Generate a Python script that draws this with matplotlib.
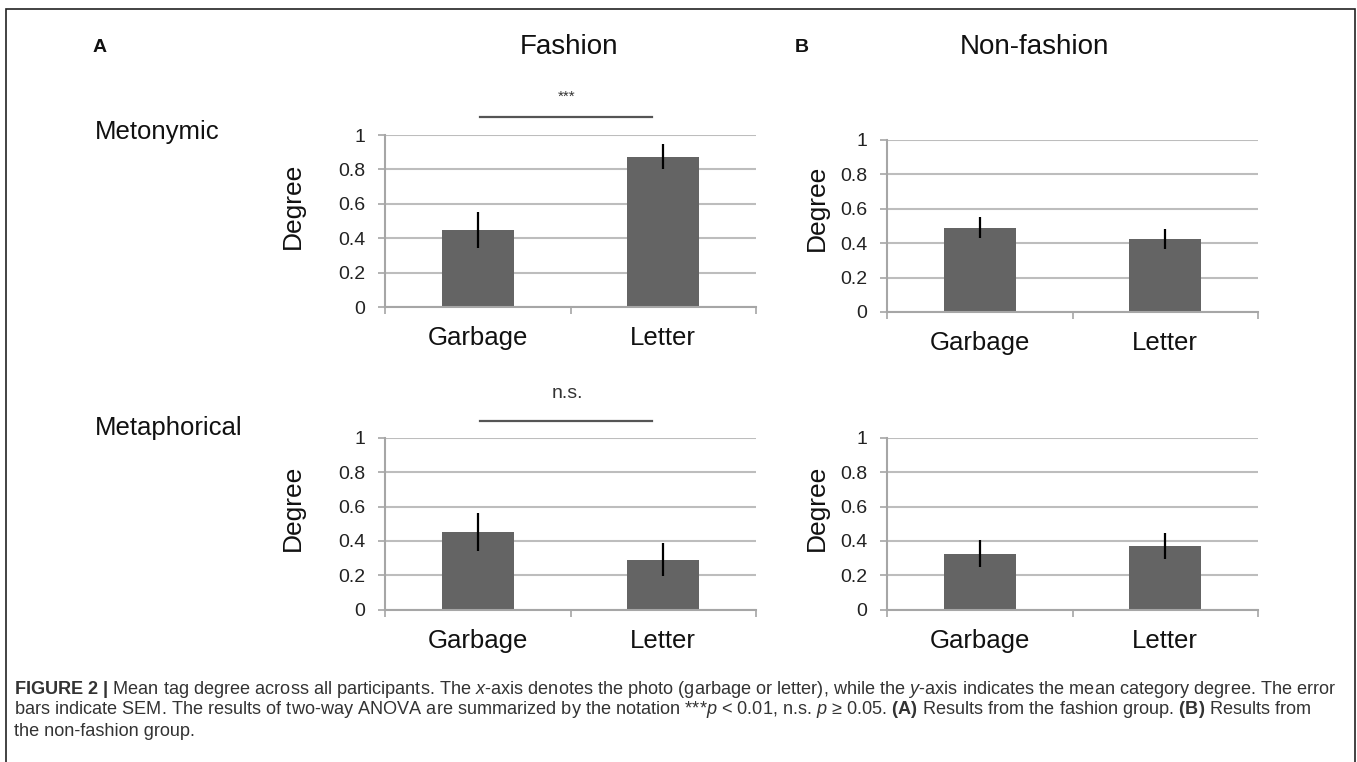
import matplotlib
matplotlib.use("Agg")
import matplotlib.pyplot as plt
from matplotlib.patches import Rectangle

plt.rcParams['font.family'] = ['Liberation Sans', 'DejaVu Sans']
plt.rcParams['mathtext.fontset'] = 'custom'
plt.rcParams['mathtext.rm'] = 'Liberation Sans'
plt.rcParams['mathtext.it'] = 'Liberation Sans:italic'
plt.rcParams['mathtext.bf'] = 'Liberation Sans:bold'

# ---------------- data ----------------
categories = ["Garbage", "Letter"]
fashion_metonymic = [0.45, 0.875]
fashion_metonymic_sem = [0.105, 0.07]
nonfashion_metonymic = [0.49, 0.425]
nonfashion_metonymic_sem = [0.06, 0.06]
fashion_metaphorical = [0.45, 0.29]
fashion_metaphorical_sem = [0.11, 0.095]
nonfashion_metaphorical = [0.325, 0.37]
nonfashion_metaphorical_sem = [0.08, 0.075]
y_ticks = [0, 0.2, 0.4, 0.6, 0.8, 1]
y_ticklabels = ["0", "0.2", "0.4", "0.6", "0.8", "1"]

W, H = 1357, 762
fig = plt.figure(figsize=(W / 100, H / 100), dpi=100)
fig.patch.set_facecolor('white')

def px_axes(x0, x1, ytop, ybot):
    return [x0 / W, 1 - ybot / H, (x1 - x0) / W, (ybot - ytop) / H]

BAR = '#646464'
GRID = '#bdbdbd'
SPINE = '#a6a6a6'

def panel(rect, vals, errs):
    ax = fig.add_axes(rect)
    x = list(range(len(categories)))
    ax.bar(x, vals, width=0.39, color=BAR, zorder=2)
    ax.errorbar(x, vals, yerr=errs, fmt='none', ecolor='black',
                elinewidth=1.6, capsize=0, zorder=3)
    ax.set_xlim(-0.5, len(categories) - 0.5)
    ax.set_ylim(0, 1)
    ax.set_yticks(y_ticks)
    ax.set_yticklabels(y_ticklabels)
    ax.yaxis.grid(True, color=GRID, linewidth=1.5, zorder=0)
    ax.set_axisbelow(True)
    ax.set_xticks(x)
    ax.set_xticklabels(categories, fontsize=18.5)
    ax.set_xticks([-0.5, 0.5, 1.5], minor=True)
    ax.tick_params(axis='x', which='major', length=0, pad=14, labelcolor='#111111')
    ax.tick_params(axis='x', which='minor', length=5, width=1.2, color=SPINE, direction='out')
    ax.tick_params(axis='y', length=5, width=1.2, color=SPINE, pad=9,
                   labelsize=14, labelcolor='#222222')
    for s in ['top', 'right']:
        ax.spines[s].set_visible(False)
    for s in ['left', 'bottom']:
        ax.spines[s].set_color(SPINE)
        ax.spines[s].set_linewidth(1.5)
    return ax

ax1 = panel(px_axes(385, 756, 135, 307), fashion_metonymic, fashion_metonymic_sem)
ax2 = panel(px_axes(887, 1258, 140, 312), nonfashion_metonymic, nonfashion_metonymic_sem)
ax3 = panel(px_axes(385, 756, 438, 609.5), fashion_metaphorical, fashion_metaphorical_sem)
ax4 = panel(px_axes(887, 1258, 438, 609.5), nonfashion_metaphorical, nonfashion_metaphorical_sem)

def ftext(x, y, s, **kw):
    fig.text(x / W, 1 - y / H, s, **kw)

# y labels
for (xx, yy) in [(293, 206), (817, 208), (293, 508), (817, 508)]:
    ftext(xx, yy, "Degree", rotation=90, ha='center', va='center', fontsize=19, color='#111111')

# headers
ftext(100, 47, "A", fontsize=14, fontweight='bold', ha='center', va='center', color='#111111')
ftext(802, 47, "B", fontsize=14, fontweight='bold', ha='center', va='center', color='#111111')
ftext(569, 47, "Fashion", fontsize=20, ha='center', va='center', color='#111111')
ftext(1034, 47, "Non-fashion", fontsize=20, ha='center', va='center', color='#111111')
ftext(95, 132, "Metonymic", fontsize=18.5, ha='left', va='center', color='#111111')
ftext(95, 428, "Metaphorical", fontsize=18.5, ha='left', va='center', color='#111111')

# significance annotations
ftext(567, 97, "***", fontsize=11, ha='center', va='center', color='#333333')
fig.add_artist(plt.Line2D([480 / W, 652 / W], [1 - 117 / H, 1 - 117 / H],
                          color='#555555', linewidth=1.6))
ftext(567, 393, "n.s.", fontsize=14, ha='center', va='center', color='#333333')
fig.add_artist(plt.Line2D([480 / W, 652 / W], [1 - 421 / H, 1 - 421 / H],
                          color='#555555', linewidth=1.6))

# frame
fig.add_artist(Rectangle((6 / W, -0.05), (1355 - 6) / W, 1 - 9 / H + 0.05,
                         transform=fig.transFigure, fill=False,
                         edgecolor='#222222', linewidth=1.2))

# caption
cap1 = (r"$\mathbf{FIGURE\ 2\ |}$ Mean tag degree across all participants. The $x$-axis denotes the photo "
        r"(garbage or letter), while the $y$-axis indicates the mean category degree. The error")
cap2 = (r"bars indicate SEM. The results of two-way ANOVA are summarized by the notation ***$p$ < 0.01, "
        r"n.s. $p$ ≥ 0.05. $\mathbf{(A)}$ Results from the fashion group. $\mathbf{(B)}$ Results from")
cap3 = "the non-fashion group."
for yy, s in [(689, cap1), (710, cap2), (731, cap3)]:
    ftext(14, yy, s, fontsize=13.1, ha='left', va='center', color='#333333')

fig.savefig("out.png", dpi=100)
